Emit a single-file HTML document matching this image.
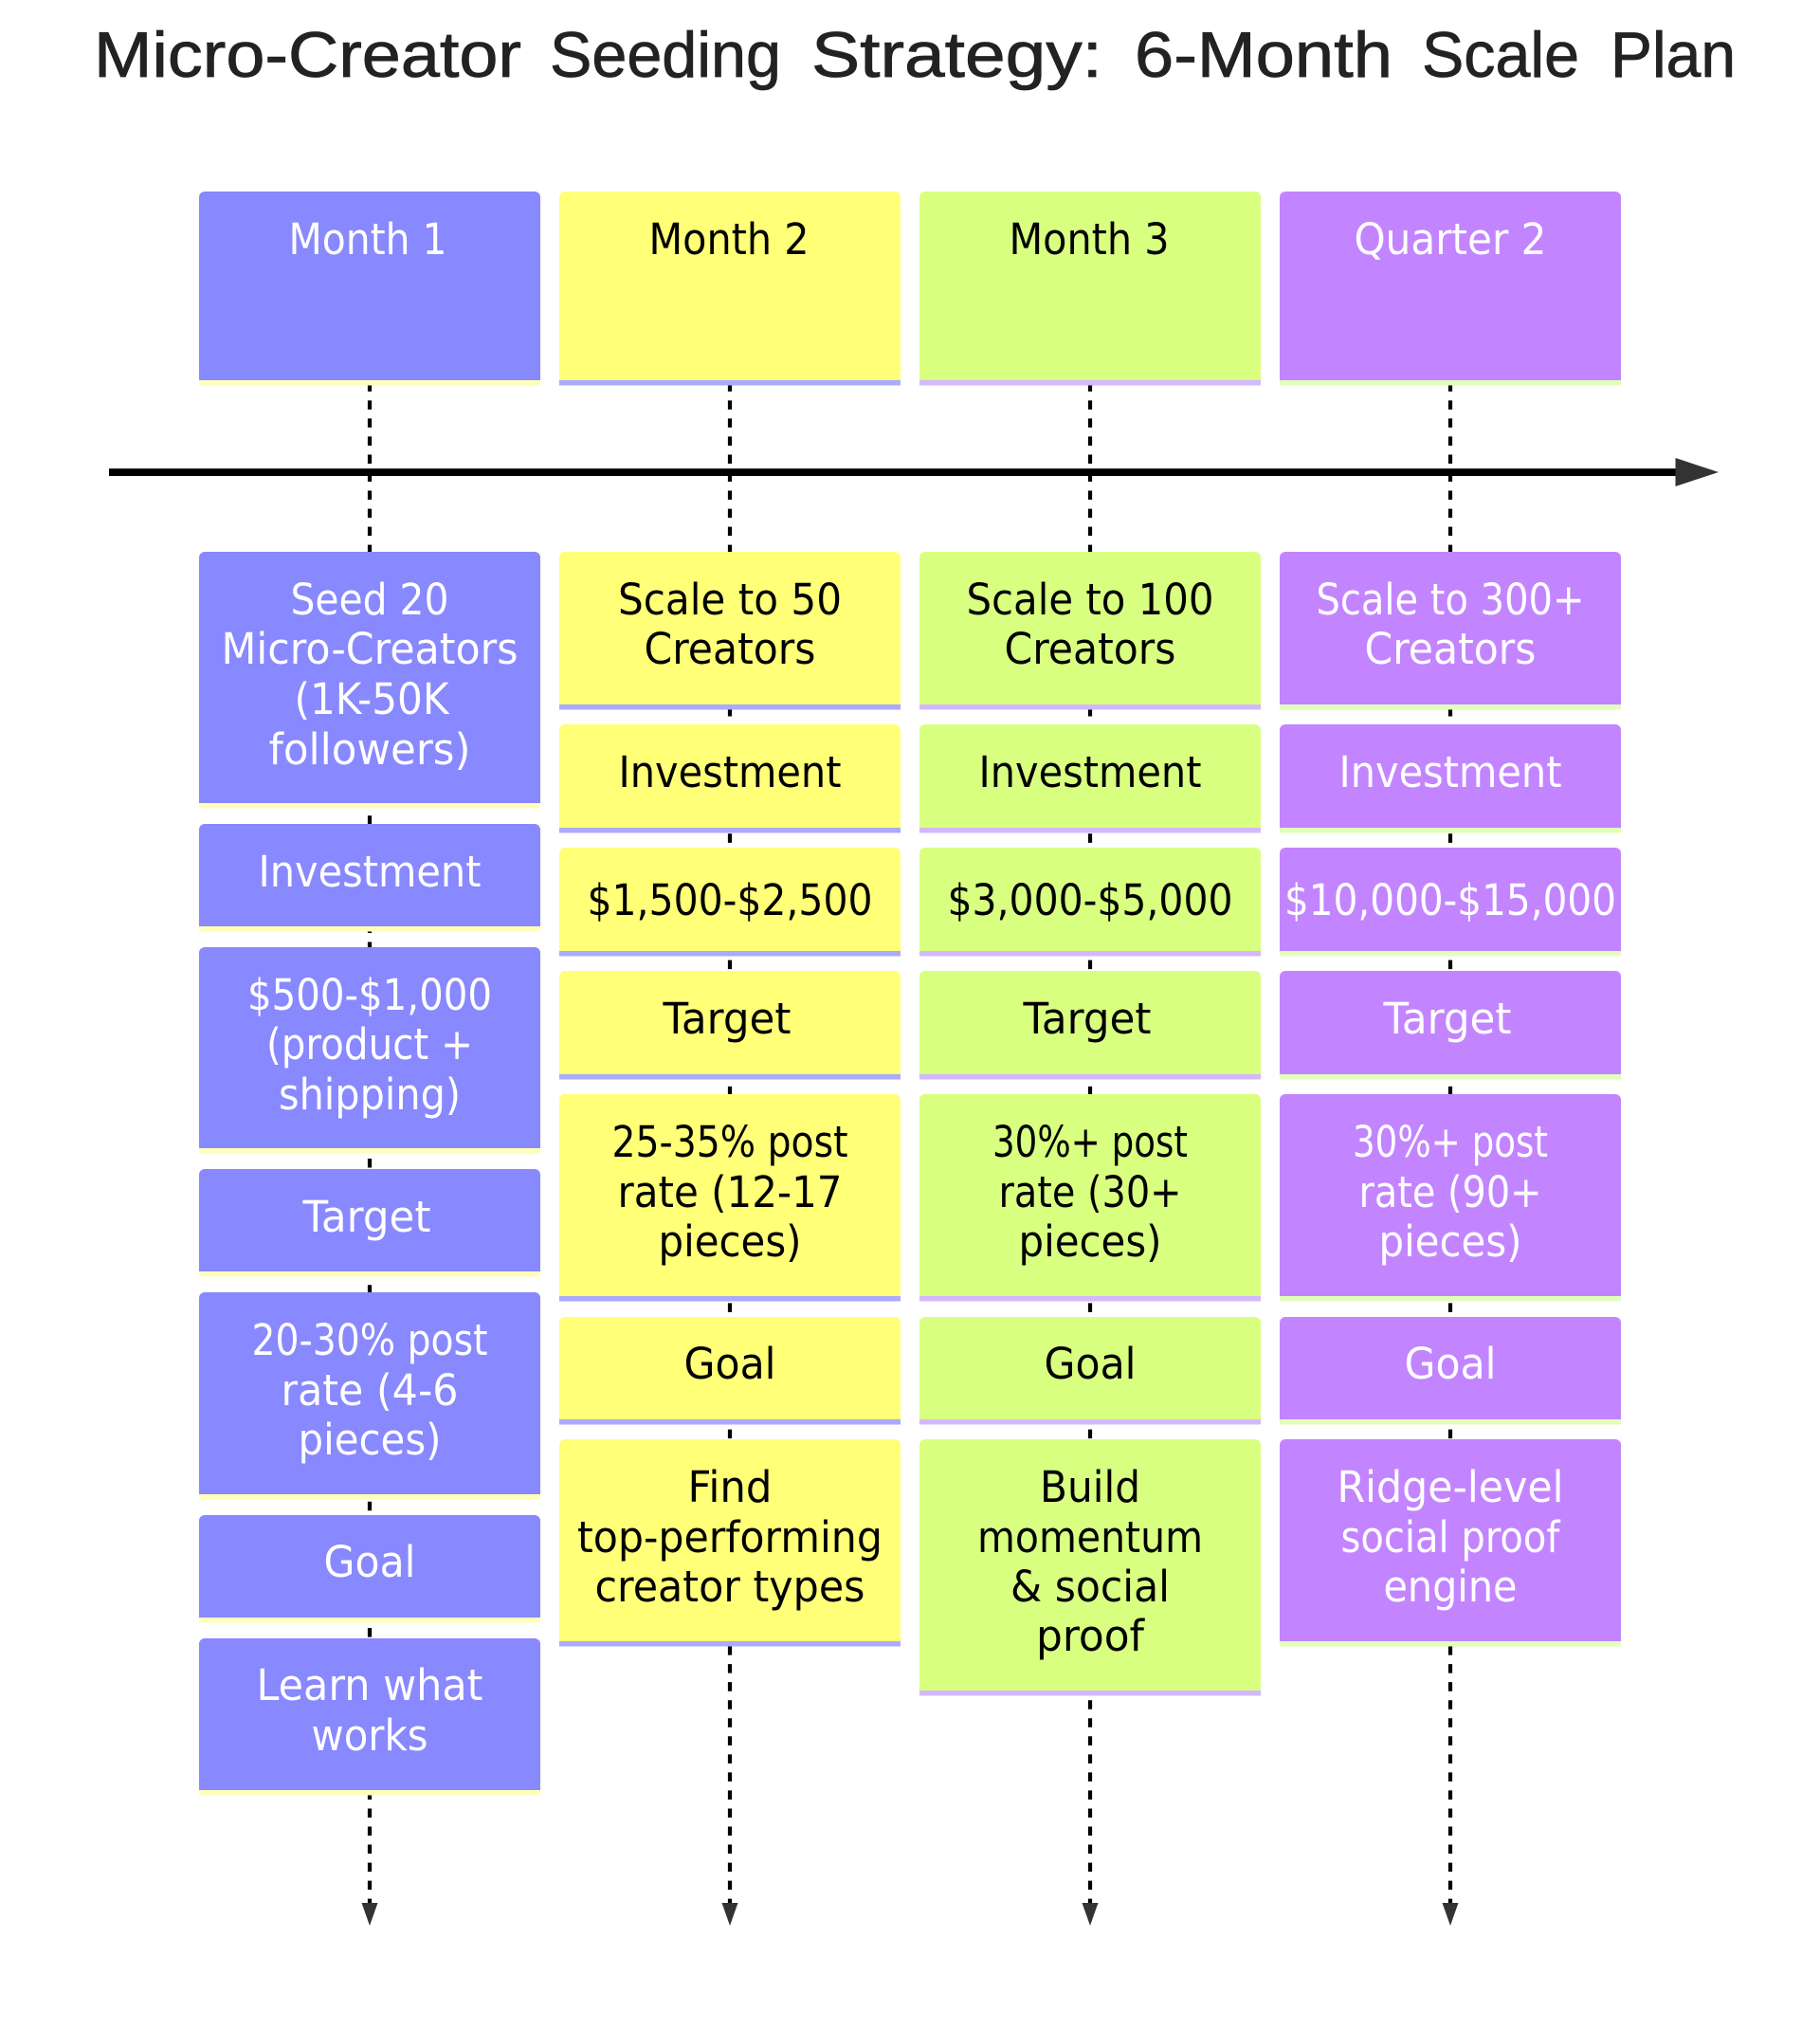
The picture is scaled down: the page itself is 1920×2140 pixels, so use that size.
<!DOCTYPE html>
<html lang="en">
<head>
<meta charset="utf-8">
<title>Micro-Creator Seeding Strategy: 6-Month Scale Plan</title>
<style>
html,body{margin:0;padding:0;background:#fff;width:1920px;height:2140px;overflow:hidden}
svg{display:block}
text{font-family:"DejaVu Sans","Liberation Sans",sans-serif;font-size:45px;text-anchor:middle}
.w text{fill:#fff}
.k text{fill:#000}
.h text{font-family:"Liberation Sans",sans-serif;font-size:68px;fill:#222;text-anchor:start;stroke:#222;stroke-width:.8px}
</style>
</head>
<body>
<svg width="1920" height="2140" viewBox="0 0 1920 2140" xmlns="http://www.w3.org/2000/svg">
<defs>
<g id="common">
<path d="M0 208a6 6 0 0 1 6-6h348a6 6 0 0 1 6 6V401H0z"/>
<path d="M0 588a6 6 0 0 1 6-6h348a6 6 0 0 1 6 6V743H0z"/>
<path d="M0 770a6 6 0 0 1 6-6h348a6 6 0 0 1 6 6V873H0z"/>
<path d="M0 900a6 6 0 0 1 6-6h348a6 6 0 0 1 6 6V1003H0z"/>
<path d="M0 1030a6 6 0 0 1 6-6h348a6 6 0 0 1 6 6V1133H0z"/>
<path d="M0 1160a6 6 0 0 1 6-6h348a6 6 0 0 1 6 6V1367H0z"/>
<path d="M0 1395a6 6 0 0 1 6-6h348a6 6 0 0 1 6 6V1497H0z"/>
</g>
<g id="commonbars">
<rect x="0" y="401" width="360" height="5.5"/>
<rect x="0" y="743" width="360" height="5.5"/>
<rect x="0" y="873" width="360" height="5.5"/>
<rect x="0" y="1003" width="360" height="5.5"/>
<rect x="0" y="1133" width="360" height="5.5"/>
<rect x="0" y="1367" width="360" height="5.5"/>
<rect x="0" y="1497" width="360" height="5.5"/>
</g>
</defs>

<g class="h">
<text x="99" y="81" textLength="451" lengthAdjust="spacingAndGlyphs">Micro-Creator</text>
<text x="580" y="81" textLength="244" lengthAdjust="spacingAndGlyphs">Seeding</text>
<text x="856" y="81" textLength="307" lengthAdjust="spacingAndGlyphs">Strategy:</text>
<text x="1197" y="81" textLength="272" lengthAdjust="spacingAndGlyphs">6-Month</text>
<text x="1500" y="81" textLength="166" lengthAdjust="spacingAndGlyphs">Scale</text>
<text x="1699" y="81" textLength="132" lengthAdjust="spacingAndGlyphs">Plan</text>
</g>

<!-- dashed lifelines -->
<g stroke="#000" stroke-width="4.2" stroke-dasharray="9.52 9.52" fill="none">
<line x1="390" y1="403.3" x2="390" y2="2012"/>
<line x1="770" y1="403.3" x2="770" y2="2012"/>
<line x1="1150" y1="403.3" x2="1150" y2="2012"/>
<line x1="1530" y1="403.3" x2="1530" y2="2012"/>
</g>
<g fill="#333">
<path d="M381.5 2007H398.5L390 2031z"/>
<path d="M761.5 2007H778.5L770 2031z"/>
<path d="M1141.5 2007H1158.5L1150 2031z"/>
<path d="M1521.5 2007H1538.5L1530 2031z"/>
</g>

<!-- axis -->
<rect x="115" y="494.2" width="1655" height="7.8" fill="#000"/>
<path d="M1767.5 483L1813 498L1767.5 513z" fill="#333"/>

<!-- column 1 -->
<g fill="#8888ff">
<path d="M210 208a6 6 0 0 1 6-6h348a6 6 0 0 1 6 6V401H210z"/>
<path d="M210 588a6 6 0 0 1 6-6h348a6 6 0 0 1 6 6V847H210z"/>
<path d="M210 875a6 6 0 0 1 6-6h348a6 6 0 0 1 6 6V977H210z"/>
<path d="M210 1005a6 6 0 0 1 6-6h348a6 6 0 0 1 6 6V1211H210z"/>
<path d="M210 1239a6 6 0 0 1 6-6h348a6 6 0 0 1 6 6V1341H210z"/>
<path d="M210 1369a6 6 0 0 1 6-6h348a6 6 0 0 1 6 6V1576H210z"/>
<path d="M210 1604a6 6 0 0 1 6-6h348a6 6 0 0 1 6 6V1706H210z"/>
<path d="M210 1734a6 6 0 0 1 6-6h348a6 6 0 0 1 6 6V1888H210z"/>
</g>
<g fill="#ffffb8">
<rect x="210" y="401" width="360" height="5.5"/>
<rect x="210" y="847" width="360" height="5.5"/>
<rect x="210" y="977" width="360" height="5.5"/>
<rect x="210" y="1211" width="360" height="5.5"/>
<rect x="210" y="1341" width="360" height="5.5"/>
<rect x="210" y="1576" width="360" height="5.5"/>
<rect x="210" y="1706" width="360" height="5.5"/>
<rect x="210" y="1888" width="360" height="5.5"/>
</g>

<!-- column 2 -->
<g fill="#ffff78" transform="translate(590 0)"><use href="#common"/>
<path d="M0 1524a6 6 0 0 1 6-6h348a6 6 0 0 1 6 6V1731H0z"/></g>
<g fill="#aaaaff" transform="translate(590 0)"><use href="#commonbars"/>
<rect x="0" y="1731" width="360" height="5.5"/></g>

<!-- column 3 -->
<g fill="#d9ff81" transform="translate(970 0)"><use href="#common"/>
<path d="M0 1524a6 6 0 0 1 6-6h348a6 6 0 0 1 6 6V1783H0z"/></g>
<g fill="#d4b8ff" transform="translate(970 0)"><use href="#commonbars"/>
<rect x="0" y="1783" width="360" height="5.5"/></g>

<!-- column 4 -->
<g fill="#c285ff" transform="translate(1350 0)"><use href="#common"/>
<path d="M0 1524a6 6 0 0 1 6-6h348a6 6 0 0 1 6 6V1731H0z"/></g>
<g fill="#e0ffba" transform="translate(1350 0)"><use href="#commonbars"/>
<rect x="0" y="1731" width="360" height="5.5"/></g>

<!-- column 1 text -->
<g class="w">
<text x="388" y="268" textLength="167" lengthAdjust="spacingAndGlyphs">Month 1</text>
<text x="390" y="648" textLength="167" lengthAdjust="spacingAndGlyphs">Seed 20</text>
<text x="390" y="700" textLength="313" lengthAdjust="spacingAndGlyphs">Micro-Creators</text>
<text x="392" y="753" textLength="163" lengthAdjust="spacingAndGlyphs">(1K-50K</text>
<text x="390" y="806" textLength="213" lengthAdjust="spacingAndGlyphs">followers)</text>
<text x="390" y="935" textLength="235" lengthAdjust="spacingAndGlyphs">Investment</text>
<text x="390" y="1065" textLength="258" lengthAdjust="spacingAndGlyphs">$500-$1,000</text>
<text x="390" y="1117" textLength="218" lengthAdjust="spacingAndGlyphs">(product +</text>
<text x="390" y="1170" textLength="192" lengthAdjust="spacingAndGlyphs">shipping)</text>
<text x="387" y="1299" textLength="135" lengthAdjust="spacingAndGlyphs">Target</text>
<text x="390" y="1429" textLength="249" lengthAdjust="spacingAndGlyphs">20-30% post</text>
<text x="390" y="1482" textLength="187" lengthAdjust="spacingAndGlyphs">rate (4-6</text>
<text x="390" y="1534" textLength="151" lengthAdjust="spacingAndGlyphs">pieces)</text>
<text x="390" y="1663" textLength="97" lengthAdjust="spacingAndGlyphs">Goal</text>
<text x="390" y="1793" textLength="239" lengthAdjust="spacingAndGlyphs">Learn what</text>
<text x="390" y="1846" textLength="123" lengthAdjust="spacingAndGlyphs">works</text>
</g>

<!-- column 2 text -->
<g class="k">
<text x="769" y="268" textLength="169" lengthAdjust="spacingAndGlyphs">Month 2</text>
<text x="770" y="648" textLength="236" lengthAdjust="spacingAndGlyphs">Scale to 50</text>
<text x="770" y="700" textLength="181" lengthAdjust="spacingAndGlyphs">Creators</text>
<text x="770" y="830" textLength="235" lengthAdjust="spacingAndGlyphs">Investment</text>
<text x="770" y="965" textLength="301" lengthAdjust="spacingAndGlyphs">$1,500-$2,500</text>
<text x="767" y="1090" textLength="135" lengthAdjust="spacingAndGlyphs">Target</text>
<text x="770" y="1220" textLength="249" lengthAdjust="spacingAndGlyphs">25-35% post</text>
<text x="770" y="1273" textLength="237" lengthAdjust="spacingAndGlyphs">rate (12-17</text>
<text x="770" y="1325" textLength="151" lengthAdjust="spacingAndGlyphs">pieces)</text>
<text x="770" y="1454" textLength="97" lengthAdjust="spacingAndGlyphs">Goal</text>
<text x="770" y="1584" textLength="89" lengthAdjust="spacingAndGlyphs">Find</text>
<text x="770" y="1637" textLength="322" lengthAdjust="spacingAndGlyphs">top-performing</text>
<text x="770" y="1689" textLength="285" lengthAdjust="spacingAndGlyphs">creator types</text>
</g>

<!-- column 3 text -->
<g class="k">
<text x="1149" y="268" textLength="169" lengthAdjust="spacingAndGlyphs">Month 3</text>
<text x="1150" y="648" textLength="261" lengthAdjust="spacingAndGlyphs">Scale to 100</text>
<text x="1150" y="700" textLength="181" lengthAdjust="spacingAndGlyphs">Creators</text>
<text x="1150" y="830" textLength="235" lengthAdjust="spacingAndGlyphs">Investment</text>
<text x="1150" y="965" textLength="301" lengthAdjust="spacingAndGlyphs">$3,000-$5,000</text>
<text x="1147" y="1090" textLength="135" lengthAdjust="spacingAndGlyphs">Target</text>
<text x="1150" y="1220" textLength="206" lengthAdjust="spacingAndGlyphs">30%+ post</text>
<text x="1150" y="1273" textLength="193" lengthAdjust="spacingAndGlyphs">rate (30+</text>
<text x="1150" y="1325" textLength="151" lengthAdjust="spacingAndGlyphs">pieces)</text>
<text x="1150" y="1454" textLength="97" lengthAdjust="spacingAndGlyphs">Goal</text>
<text x="1150" y="1584" textLength="106" lengthAdjust="spacingAndGlyphs">Build</text>
<text x="1150" y="1637" textLength="238" lengthAdjust="spacingAndGlyphs">momentum</text>
<text x="1150" y="1689" textLength="168" lengthAdjust="spacingAndGlyphs">&amp; social</text>
<text x="1150" y="1741" textLength="114" lengthAdjust="spacingAndGlyphs">proof</text>
</g>

<!-- column 4 text -->
<g class="w">
<text x="1530" y="268" textLength="203" lengthAdjust="spacingAndGlyphs">Quarter 2</text>
<text x="1530" y="648" textLength="283" lengthAdjust="spacingAndGlyphs">Scale to 300+</text>
<text x="1530" y="700" textLength="181" lengthAdjust="spacingAndGlyphs">Creators</text>
<text x="1530" y="830" textLength="235" lengthAdjust="spacingAndGlyphs">Investment</text>
<text x="1530" y="965" textLength="350" lengthAdjust="spacingAndGlyphs">$10,000-$15,000</text>
<text x="1527" y="1090" textLength="135" lengthAdjust="spacingAndGlyphs">Target</text>
<text x="1530" y="1220" textLength="206" lengthAdjust="spacingAndGlyphs">30%+ post</text>
<text x="1530" y="1273" textLength="193" lengthAdjust="spacingAndGlyphs">rate (90+</text>
<text x="1530" y="1325" textLength="151" lengthAdjust="spacingAndGlyphs">pieces)</text>
<text x="1530" y="1454" textLength="97" lengthAdjust="spacingAndGlyphs">Goal</text>
<text x="1530" y="1584" textLength="239" lengthAdjust="spacingAndGlyphs">Ridge-level</text>
<text x="1530" y="1637" textLength="231" lengthAdjust="spacingAndGlyphs">social proof</text>
<text x="1530" y="1689" textLength="141" lengthAdjust="spacingAndGlyphs">engine</text>
</g>
</svg>
</body>
</html>
